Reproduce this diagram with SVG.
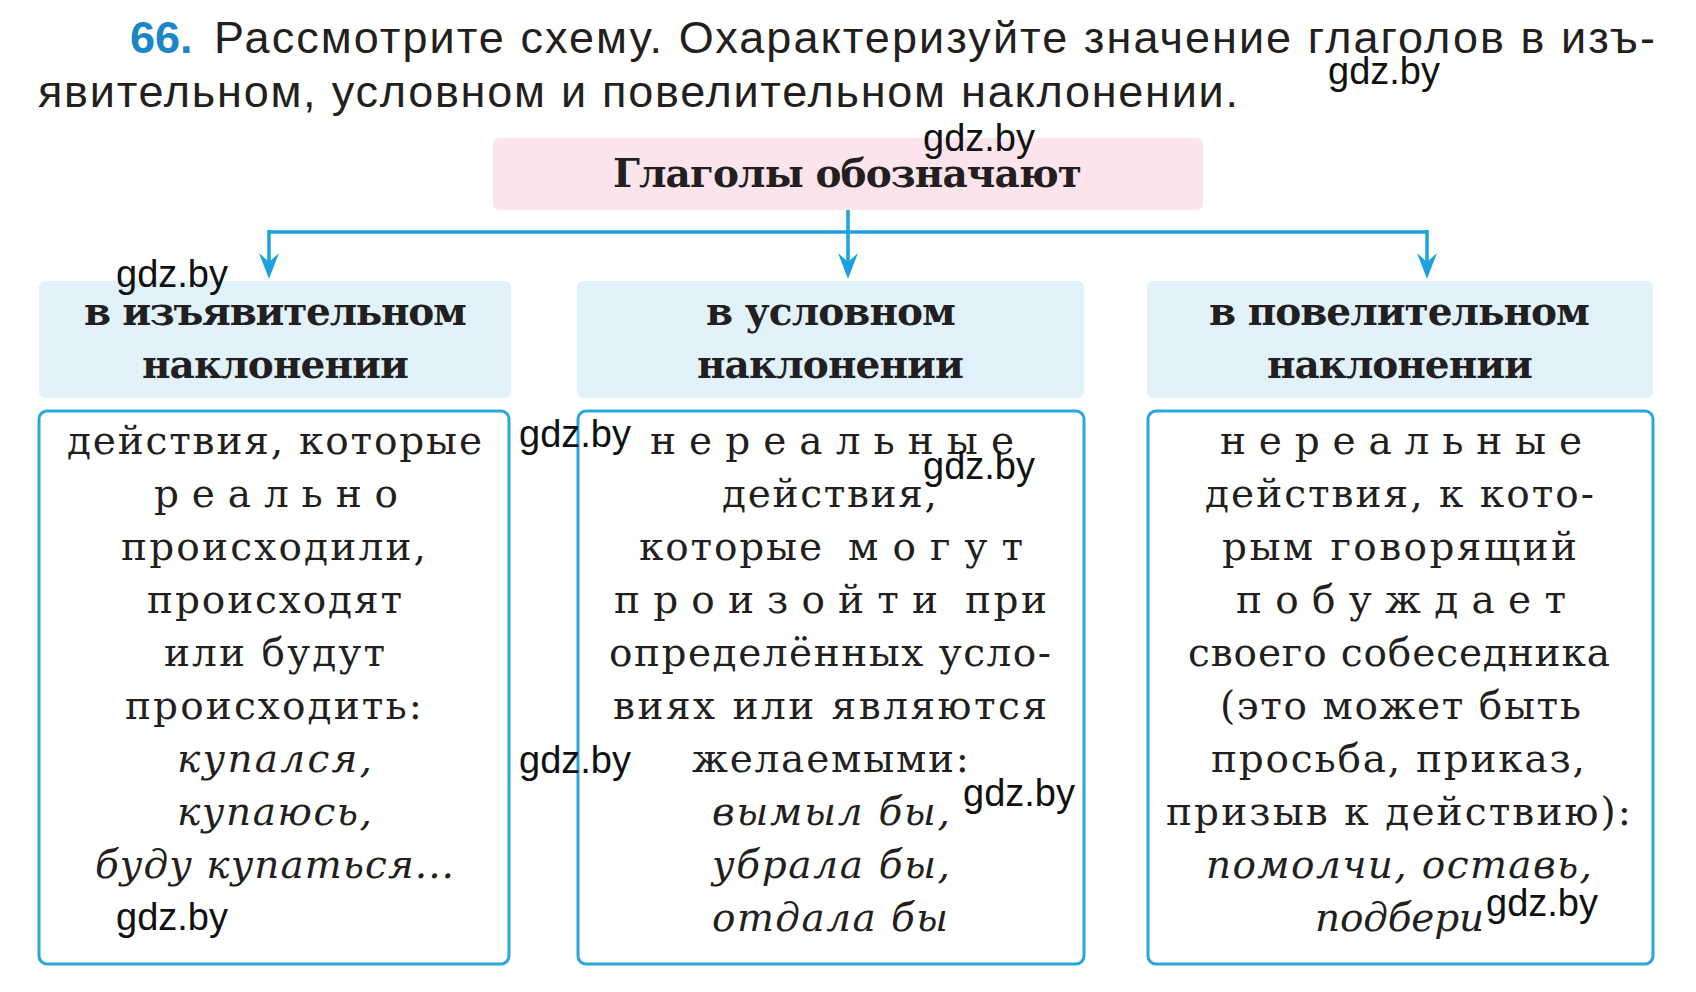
<svg xmlns="http://www.w3.org/2000/svg" width="1696" height="992" viewBox="0 0 1696 992">
<defs>
<style>
.title{font-family:"Liberation Sans",Arial,sans-serif;font-size:45px;fill:#231f20}
.num{font-family:"Liberation Sans",Arial,sans-serif;font-size:45px;font-weight:bold;fill:#1b86c6}
.hd{font-family:"DejaVu Serif",serif;font-size:39px;font-weight:bold;fill:#231f20}
.tp{font-family:"DejaVu Serif",serif;font-size:39px;font-weight:bold;fill:#231f20}
.bd{font-family:"DejaVu Serif",serif;font-size:39px;fill:#231f20}
.it{font-family:"DejaVu Serif",serif;font-size:39px;font-style:italic;fill:#231f20}
.wm{font-family:"Liberation Sans",Arial,sans-serif;font-size:38px;fill:#111}
.hbox{fill:#e1f2fb}
.bbox{fill:#fff;stroke:#2aa6d9;stroke-width:3}
.conn{stroke:#1ba2de;stroke-width:3.5;fill:none}
.ah{fill:#1ba2de}
</style>
</defs>
<rect width="1696" height="992" fill="#fff"/>

<g id="task">
<text class="num" x="130" y="53">66.</text>
<text class="title" x="214" y="53" textLength="1441" lengthAdjust="spacing">Рассмотрите схему. Охарактеризуйте значение глаголов в изъ-</text>
<text class="title" x="38" y="107" textLength="1200" lengthAdjust="spacing">явительном, условном и повелительном наклонении.</text>
</g>

<g id="connectors">
<path class="conn" d="M848 210 V262 M269 232 H1427 M269 230 V262 M1427 230 V262"/>
<path class="ah" d="M269 279 L259 253 L269 262 L279 253 Z"/>
<path class="ah" d="M848 279 L838 253 L848 262 L858 253 Z"/>
<path class="ah" d="M1427 279 L1417 253 L1427 262 L1437 253 Z"/>
</g>

<g id="node-root">
<rect x="493" y="138" width="710" height="72" rx="6" fill="#fce4ec"/>
<text class="tp" x="613" y="187" textLength="469" lengthAdjust="spacing">Глаголы обозначают</text>
</g>

<g id="node-indicative-head">
<rect class="hbox" x="39" y="281" width="472" height="117" rx="6"/>
<text class="hd" x="84" y="325" textLength="383" lengthAdjust="spacing">в изъявительном</text>
<text class="hd" x="142" y="378" textLength="267" lengthAdjust="spacing">наклонении</text>
</g>

<g id="node-conditional-head">
<rect class="hbox" x="577" y="281" width="507" height="117" rx="6"/>
<text class="hd" x="706" y="325" textLength="250" lengthAdjust="spacing">в условном</text>
<text class="hd" x="697" y="378" textLength="267" lengthAdjust="spacing">наклонении</text>
</g>

<g id="node-imperative-head">
<rect class="hbox" x="1147" y="281" width="506" height="117" rx="6"/>
<text class="hd" x="1209" y="325" textLength="381" lengthAdjust="spacing">в повелительном</text>
<text class="hd" x="1267" y="378" textLength="266" lengthAdjust="spacing">наклонении</text>
</g>

<g id="node-indicative-body">
<rect class="bbox" x="39" y="411" width="470" height="553" rx="8"/>
<text class="bd" x="67" y="454" textLength="415" lengthAdjust="spacing">действия, которые</text>
<text class="bd" x="154" y="507" textLength="244" lengthAdjust="spacing">реально</text>
<text class="bd" x="121" y="560" textLength="305" lengthAdjust="spacing">происходили,</text>
<text class="bd" x="147" y="613" textLength="255" lengthAdjust="spacing">происходят</text>
<text class="bd" x="164" y="666" textLength="221" lengthAdjust="spacing">или будут</text>
<text class="bd" x="125" y="719" textLength="297" lengthAdjust="spacing">происходить:</text>
<text class="it" x="177" y="772" textLength="195" lengthAdjust="spacing">купался,</text>
<text class="it" x="177" y="825" textLength="195" lengthAdjust="spacing">купаюсь,</text>
<text class="it" x="95" y="878" textLength="359" lengthAdjust="spacing">буду купаться...</text>
</g>

<g id="node-conditional-body">
<rect class="bbox" x="578" y="411" width="506" height="553" rx="8"/>
<text class="bd" x="650" y="454" textLength="364" lengthAdjust="spacing">нереальные</text>
<text class="bd" x="722" y="507" textLength="215" lengthAdjust="spacing">действия,</text>
<text class="bd" x="639" y="560" textLength="183" lengthAdjust="spacing">которые</text>
<text class="bd" x="848" y="560" textLength="175" lengthAdjust="spacing">могут</text>
<text class="bd" x="614" y="613" textLength="324" lengthAdjust="spacing">произойти</text>
<text class="bd" x="965" y="613" textLength="82" lengthAdjust="spacing">при</text>
<text class="bd" x="609" y="666" textLength="442" lengthAdjust="spacing">определённых усло-</text>
<text class="bd" x="613" y="719" textLength="434" lengthAdjust="spacing">виях или являются</text>
<text class="bd" x="692" y="772" textLength="277" lengthAdjust="spacing">желаемыми:</text>
<text class="it" x="712" y="825" textLength="238" lengthAdjust="spacing">вымыл бы,</text>
<text class="it" x="712" y="878" textLength="238" lengthAdjust="spacing">убрала бы,</text>
<text class="it" x="712" y="931" textLength="236" lengthAdjust="spacing">отдала бы</text>
</g>

<g id="node-imperative-body">
<rect class="bbox" x="1148" y="411" width="505" height="553" rx="8"/>
<text class="bd" x="1220" y="454" textLength="362" lengthAdjust="spacing">нереальные</text>
<text class="bd" x="1205" y="507" textLength="389" lengthAdjust="spacing">действия, к кото-</text>
<text class="bd" x="1222" y="560" textLength="355" lengthAdjust="spacing">рым говорящий</text>
<text class="bd" x="1236" y="613" textLength="330" lengthAdjust="spacing">побуждает</text>
<text class="bd" x="1188" y="666" textLength="422" lengthAdjust="spacing">своего собеседника</text>
<text class="bd" x="1220" y="719" textLength="361" lengthAdjust="spacing">(это может быть</text>
<text class="bd" x="1211" y="772" textLength="374" lengthAdjust="spacing">просьба, приказ,</text>
<text class="bd" x="1166" y="825" textLength="465" lengthAdjust="spacing">призыв к действию):</text>
<text class="it" x="1206" y="878" textLength="386" lengthAdjust="spacing">помолчи, оставь,</text>
<text class="it" x="1315" y="931" textLength="169" lengthAdjust="spacing">подбери</text>
</g>

<g id="watermarks">
<text class="wm" x="1328" y="84">gdz.by</text>
<text class="wm" x="923" y="151">gdz.by</text>
<text class="wm" x="116" y="287">gdz.by</text>
<text class="wm" x="519" y="447">gdz.by</text>
<text class="wm" x="923" y="479">gdz.by</text>
<text class="wm" x="519" y="773">gdz.by</text>
<text class="wm" x="963" y="806">gdz.by</text>
<text class="wm" x="116" y="930">gdz.by</text>
<text class="wm" x="1486" y="916">gdz.by</text>
</g>
</svg>
